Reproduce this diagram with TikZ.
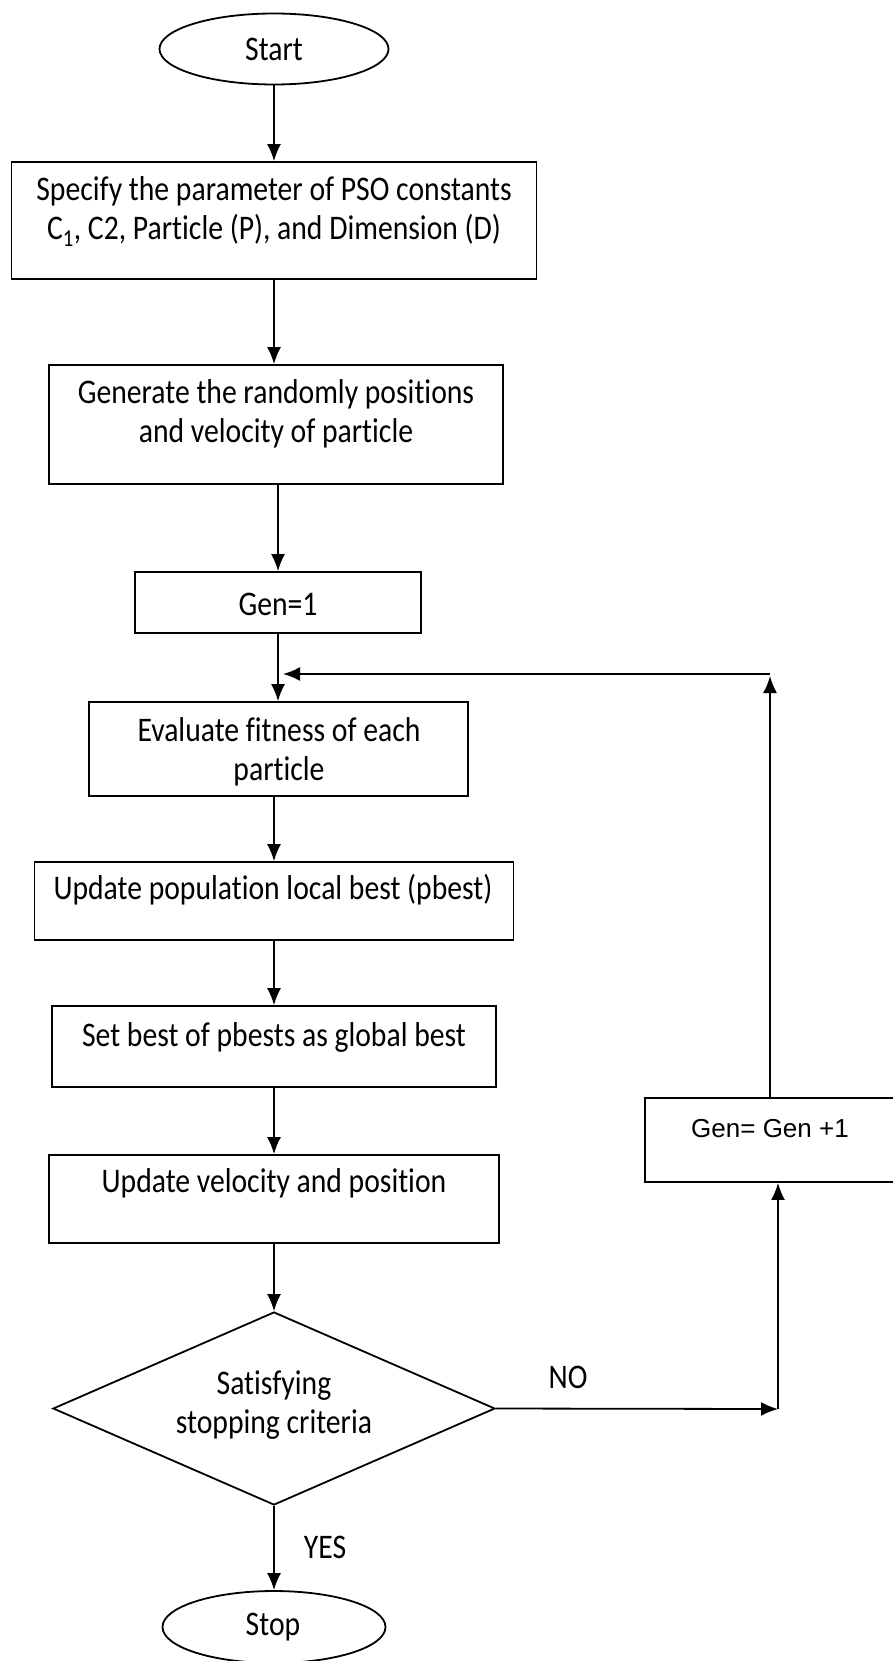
\documentclass[tikz,border=0pt]{standalone}
\usepackage{fontspec}
\setmainfont{Carlito}[FakeStretch=0.86, Ligatures=NoCommon]
\newfontfamily\arialfont{Liberation Sans}
\usetikzlibrary{shapes.geometric,arrows.meta}
\tikzset{
  every picture/.style={x=1pt,y=-1pt},
  box/.style={draw, line width=1.8pt, rectangle, inner sep=0pt},
  oval/.style={draw, line width=1.8pt, ellipse, inner sep=0pt},
  decision/.style={draw, line width=1.8pt, diamond, inner sep=0pt},
  txt/.style={align=center, inner sep=0pt, font=\fontsize{34.5}{39}\selectfont},
  lbl/.style={inner sep=0pt, font=\fontsize{34.5}{39}\selectfont},
  arr/.style={line width=1.8pt, -{Latex[length=17pt,width=14pt]}},
}
\begin{document}
\begin{tikzpicture}
\clip (0,0) rectangle (893,1661);
\fill[white] (0,0) rectangle (893,1661);
% shapes
\node[oval, minimum width=229, minimum height=71] (start) at (274,49) {};
\node[box, minimum width=525, minimum height=117] (b1) at (274,220.5) {};
\node[box, minimum width=454, minimum height=119] (b2) at (276,424.5) {};
\node[box, minimum width=286, minimum height=61] (b3) at (278,602.5) {};
\node[box, minimum width=379, minimum height=94] (b4) at (278.5,749) {};
\node[box, minimum width=479, minimum height=78] (b5) at (274,901) {};
\node[box, minimum width=444, minimum height=81] (b6) at (274,1046.5) {};
\node[box, minimum width=450, minimum height=88] (b7) at (274,1199) {};
\node[decision, minimum width=442, minimum height=193] (dec) at (274,1408.5) {};
\node[box, minimum width=265, minimum height=84] (gen) at (777.5,1140) {};
\node[oval, minimum width=223, minimum height=72] (stop) at (274,1627) {};
% texts
\node[lbl] (tstart) at (274,49) {Start};
\node[txt] (t1) at (274,212) {Specify the parameter of PSO constants\\C\textsubscript{1}, C2, Particle (P), and Dimension (D)};
\node[txt] (t2) at (276,414) {Generate the randomly positions\\and velocity of particle};
\node[lbl] (t3) at (278,604) {Gen=1};
\node[txt] (t4) at (279,752) {Evaluate fitness of each\\particle};
\node[lbl] (t5) at (273,890) {Update population local best (pbest)};
\node[lbl] (t6) at (274,1037) {Set best of pbests as global best};
\node[lbl] (t7) at (274,1183) {Update velocity and position};
\node[txt] (tdec) at (274,1405) {Satisfying\\stopping criteria};
\node[inner sep=0pt, font=\arialfont\fontsize{26}{30}\selectfont] (tgen) at (770,1129) {Gen= Gen +1};
\node[lbl] (tstop) at (273,1627) {Stop};
\node[lbl] (tno) at (568,1377) {NO};
\node[lbl] (tyes) at (325,1547) {YES};
% helper coordinates
\coordinate (fbR) at (770,674);
\coordinate (fbL) at (283,674);
\coordinate (noR) at (778,1409);
% connectors
\draw[arr] (start.south) -- (b1.north);
\draw[arr] (b1.south) -- (b1.south |- b2.north);
\draw[arr] (b2.south -| b3.north) -- (b3.north);
\draw[arr] (b3.south) -- (b3.south |- b4.north);
\draw[arr] (b4.south -| b5.north) -- (b5.north);
\draw[arr] (b5.south) -- (b6.north);
\draw[arr] (b6.south) -- (b7.north);
\draw[arr] (b7.south) -- (dec.north);
\draw[arr] (dec.south) -- (stop.north);
\draw[arr] (dec.east) -- (noR);
\draw[arr] (noR) -- (noR |- gen.south);
\draw[arr] (gen.north -| fbR) -- ([yshift=-2pt]fbR);
\draw[arr] (fbR) -- (fbL);
\end{tikzpicture}
\end{document}
